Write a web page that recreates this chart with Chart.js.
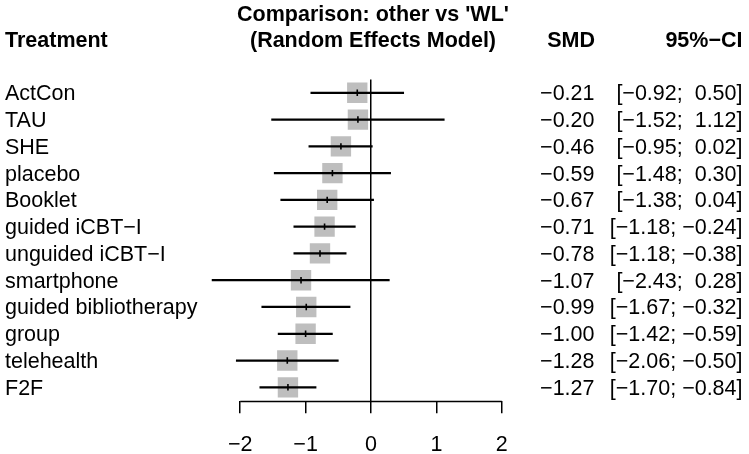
<!DOCTYPE html>
<html>
<head>
<meta charset="utf-8">
<script src="https://cdn.jsdelivr.net/npm/chart.js@4"></script>
<style>
html,body{margin:0;padding:0;background:#fff;}
#wrap{width:749px;height:454px;position:relative;}
</style>
</head>
<body>
<div id="wrap"><canvas id="c"></canvas></div>
<script>
const treatments = ["ActCon","TAU","SHE","placebo","Booklet","guided iCBT\u2212I","unguided iCBT\u2212I","smartphone","guided bibliotherapy","group","telehealth","F2F"];
const smd   = [-0.21,-0.20,-0.46,-0.59,-0.67,-0.71,-0.78,-1.07,-0.99,-1.00,-1.28,-1.27];
const lower = [-0.92,-1.52,-0.95,-1.48,-1.38,-1.18,-1.18,-2.43,-1.67,-1.42,-2.06,-1.70];
const upper = [ 0.50, 1.12, 0.02, 0.30, 0.04,-0.24,-0.38, 0.28,-0.32,-0.59,-0.50,-0.84];
const xTicks = [-2,-1,0,1,2];

const FONT = "'Liberation Sans', Arial, Helvetica, sans-serif";
const FS = 21.5;

function fmt(v){ const s = Math.abs(v).toFixed(2); return v < 0 ? "\u2212" + s : " " + s; }
function fmtTick(v){ return v < 0 ? "\u2212" + Math.abs(v) : String(v); }

const textPlugin = {
  id: 'forestText',
  afterDraw(chart){
    const ctx = chart.ctx;
    const xs = chart.scales.x, ys = chart.scales.y;
    ctx.save();
    ctx.strokeStyle = '#000';
    ctx.lineWidth = 1.5;
    ctx.beginPath();
    const ay = chart.chartArea.bottom + 0.75;
    ctx.moveTo(xs.getPixelForValue(xTicks[0]), ay);
    ctx.lineTo(xs.getPixelForValue(xTicks[xTicks.length-1]), ay);
    ctx.stroke();
    ctx.fillStyle = '#000';
    ctx.font = 'bold ' + FS + 'px ' + FONT;
    ctx.textBaseline = 'alphabetic';
    ctx.textAlign = 'left';
    ctx.fillText('Treatment', 5, 46.5);
    ctx.textAlign = 'center';
    const cx = xs.getPixelForValue(0) + 2;
    ctx.fillText("Comparison: other vs 'WL'", cx, 21);
    ctx.fillText("(Random Effects Model)", cx, 46.5);
    ctx.textAlign = 'right';
    ctx.fillText('SMD', 595, 46.5);
    ctx.fillText('95%\u2212CI', 742.5, 46.5);
    ctx.font = FS + 'px ' + FONT;
    ctx.textBaseline = 'middle';
    treatments.forEach((t, i) => {
      const y = ys.getPixelForValue(i) + 1.5;
      ctx.textAlign = 'right';
      ctx.fillText(fmt(smd[i]).trim(), 594.5, y);
      ctx.fillText('[' + fmt(lower[i]) + '; ' + fmt(upper[i]) + ']', 742.5, y);
    });
    ctx.restore();
  }
};

new Chart(document.getElementById('c'), {
  type: 'bar',
  data: {
    labels: treatments,
    datasets: [
      {
        type: 'scatter',
        label: 'box',
        data: treatments.map((t, i) => ({x: smd[i], y: t})),
        pointStyle: 'rect',
        pointRadius: 14.4,
        pointHoverRadius: 14.4,
        backgroundColor: '#BEBEBE',
        borderWidth: 0,
        order: 3
      },
      {
        type: 'bar',
        label: 'ci',
        data: treatments.map((t, i) => ({x: [lower[i], upper[i]], y: t})),
        backgroundColor: '#000',
        borderWidth: 0,
        barThickness: 1.6,
        order: 2
      },
      {
        type: 'scatter',
        label: 'est',
        data: treatments.map((t, i) => ({x: smd[i], y: t})),
        pointStyle: 'line',
        rotation: 90,
        pointRadius: 3.2,
        pointHoverRadius: 3.2,
        borderColor: '#000',
        borderWidth: 1.6,
        order: 1
      }
    ]
  },
  options: {
    indexAxis: 'y',
    responsive: true,
    maintainAspectRatio: false,
    animation: false,
    events: [],
    layout: { padding: { left: 5, right: 214.5, top: 79.4, bottom: 0 } },
    plugins: { legend: { display: false }, tooltip: { enabled: false }, title: { display: false } },
    scales: {
      x: {
        type: 'linear',
        min: -2.5,
        max: 2.5,
        afterBuildTicks(scale){ scale.ticks = xTicks.map(v => ({value: v})); },
        grid: {
          drawOnChartArea: true,
          color: ctx => (ctx.tick && ctx.tick.value === 0) ? '#000' : 'rgba(0,0,0,0)',
          tickColor: '#000',
          lineWidth: 1.5,
          tickLength: 12.5
        },
        border: { display: false },
        ticks: {
          color: '#000',
          font: { family: FONT, size: FS },
          padding: 19,
          maxRotation: 0,
          callback: v => fmtTick(v)
        },
        afterFit(scale){ scale.height = 53.3; }
      },
      y: {
        type: 'category',
        labels: treatments,
        offset: true,
        grid: { display: false },
        border: { display: false },
        ticks: {
          color: '#000',
          font: { family: FONT, size: FS },
          crossAlign: 'far',
          autoSkip: false,
          padding: 0,
          labelOffset: 1.5
        },
        afterFit(scale){ scale.width = 202.5; }
      }
    }
  },
  plugins: [textPlugin]
});
</script>
</body>
</html>
